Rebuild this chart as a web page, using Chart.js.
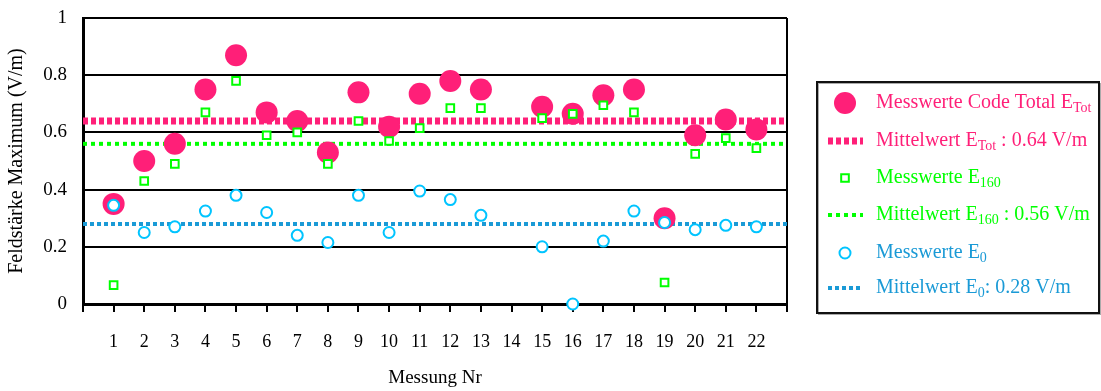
<!DOCTYPE html>
<html>
<head>
<meta charset="utf-8">
<script src="https://cdn.jsdelivr.net/npm/chart.js@4.4.1/dist/chart.umd.min.js"></script>
<style>
  body { margin: 0; background: #fff; }
  canvas { display: block; }
</style>
</head>
<body>
<canvas id="chart" width="1101" height="391"></canvas>
<script>
// Messung Nr 1..22 (Nr 14 has no values)
const messungNr = [1, 2, 3, 4, 5, 6, 7, 8, 9, 10, 11, 12, 13, 14, 15, 16, 17, 18, 19, 20, 21, 22];
const totalValues = [0.35, 0.50, 0.56, 0.75, 0.87, 0.67, 0.64, 0.53, 0.74, 0.62, 0.735, 0.78, 0.75, null, 0.69, 0.665, 0.73, 0.75, 0.30, 0.59, 0.645, 0.61];
const e160Values = [0.066, 0.43, 0.49, 0.67, 0.78, 0.59, 0.60, 0.49, 0.64, 0.57, 0.615, 0.685, 0.685, null, 0.65, 0.665, 0.695, 0.67, 0.075, 0.525, 0.58, 0.545];
const e0Values = [0.345, 0.25, 0.27, 0.325, 0.38, 0.32, 0.24, 0.215, 0.38, 0.25, 0.395, 0.365, 0.31, null, 0.20, 0.0, 0.22, 0.325, 0.285, 0.26, 0.275, 0.27];
const meanTotal = 0.64;
const meanE160 = 0.56;
const meanE0 = 0.28;
const xRange = [0, 23];

const PINK = "#ff1f78";
const GREEN = "#00ff00";
const CYAN = "#00c4ff";
const BLUE = "#1a9ad6";
const FONT = "'Liberation Serif', 'Times New Roman', serif";

const toPoints = (vals) =>
  vals.map((v, i) => ({ x: messungNr[i], y: v })).filter((p) => p.y !== null);
const meanLine = (m) => xRange.map((x) => ({ x: x, y: m }));

const noPadding = (s) => {
  s.paddingTop = 0;
  s.paddingBottom = 0;
  s.paddingLeft = 0;
  s.paddingRight = 0;
};

// legend drawn by hand so the subscripts can be written like in the original
const subLegend = {
  id: "subLegend",
  afterDraw(chart) {
    const ctx = chart.ctx;
    const box = { x: 817, y: 82, w: 282, h: 231 };
    ctx.save();
    ctx.strokeStyle = "#aaa";
    ctx.lineWidth = 1;
    ctx.strokeRect(box.x + 1.5, box.y + 1.5, box.w, box.h);
    ctx.strokeStyle = "#111";
    ctx.lineWidth = 2;
    ctx.strokeRect(box.x, box.y, box.w, box.h);

    const order = [0, 3, 1, 4, 2, 5];
    const rowY = [103, 141, 178, 215, 253, 288];
    order.forEach((di, row) => {
      const ds = chart.data.datasets[di];
      const y = rowY[row];
      const cx = 845;
      ctx.save();
      if (ds.type === "line") {
        ctx.strokeStyle = ds.borderColor;
        ctx.lineWidth = ds.borderWidth;
        ctx.setLineDash(ds.borderDash);
        ctx.beginPath();
        ctx.moveTo(828, y);
        ctx.lineTo(863, y);
        ctx.stroke();
      } else {
        ctx.fillStyle = ds.backgroundColor;
        ctx.strokeStyle = ds.borderColor;
        ctx.lineWidth = ds.borderWidth;
        Chart.helpers.drawPoint(ctx, { pointStyle: ds.pointStyle, radius: ds.pointRadius, rotation: 0, borderWidth: ds.borderWidth }, cx, y);
      }
      ctx.restore();

      // text with E_{sub}
      ctx.fillStyle = ds.textColor;
      ctx.textBaseline = "middle";
      let tx = 876;
      const parts = ds.label.split(/(_\{[^}]*\})/);
      parts.forEach((p) => {
        if (!p) return;
        if (p.startsWith("_{")) {
          const s = p.slice(2, -1);
          ctx.font = "14px " + FONT;
          ctx.fillText(s, tx, y + 5);
          tx += ctx.measureText(s).width;
        } else {
          ctx.font = "20px " + FONT;
          ctx.fillText(p, tx, y);
          tx += ctx.measureText(p).width;
        }
      });
    });
    ctx.restore();
  },
};

new Chart(document.getElementById("chart"), {
  type: "scatter",
  data: {
    datasets: [
      {
        label: "Messwerte Code Total E_{Tot}",
        data: toPoints(totalValues),
        pointStyle: "circle",
        pointRadius: 11,
        pointHoverRadius: 11,
        backgroundColor: PINK,
        borderColor: PINK,
        borderWidth: 0,
        textColor: PINK,
        order: 3,
        clip: false,
      },
      {
        label: "Messwerte E_{160}",
        data: toPoints(e160Values),
        pointStyle: "rect",
        pointRadius: 5.4,
        pointHoverRadius: 5.4,
        backgroundColor: "#fff",
        borderColor: GREEN,
        borderWidth: 2,
        textColor: GREEN,
        order: 2,
        clip: false,
      },
      {
        label: "Messwerte E_{0}",
        data: toPoints(e0Values),
        pointStyle: "circle",
        pointRadius: 5.5,
        pointHoverRadius: 5.5,
        backgroundColor: "#fff",
        borderColor: CYAN,
        borderWidth: 2,
        textColor: BLUE,
        order: 1,
        clip: false,
      },
      {
        type: "line",
        label: "Mittelwert E_{Tot} : " + meanTotal.toFixed(2) + " V/m",
        data: meanLine(meanTotal),
        borderColor: PINK,
        borderWidth: 7,
        borderDash: [5, 3],
        pointRadius: 0,
        textColor: PINK,
        order: 6,
      },
      {
        type: "line",
        label: "Mittelwert E_{160} : " + meanE160.toFixed(2) + " V/m",
        data: meanLine(meanE160),
        borderColor: GREEN,
        borderWidth: 4,
        borderDash: [4, 4],
        pointRadius: 0,
        textColor: GREEN,
        order: 5,
      },
      {
        type: "line",
        label: "Mittelwert E_{0}: " + meanE0.toFixed(2) + " V/m",
        data: meanLine(meanE0),
        borderColor: BLUE,
        borderWidth: 4,
        borderDash: [4, 3],
        pointRadius: 0,
        textColor: BLUE,
        order: 4,
      },
    ],
  },
  options: {
    responsive: false,
    animation: false,
    events: [],
    layout: { padding: { top: 18, right: 314, left: 0, bottom: 0 } },
    plugins: {
      legend: { display: false },
      tooltip: { enabled: false },
    },
    scales: {
      x: {
        type: "linear",
        min: xRange[0],
        max: xRange[1],
        afterFit: (s) => { s.height = 87; noPadding(s); },
        afterBuildTicks: (s) => {
          s.ticks = [];
          for (let v = xRange[0]; v <= xRange[1]; v++) s.ticks.push({ value: v });
        },
        ticks: {
          autoSkip: false,
          maxRotation: 0,
          padding: 19,
          color: "#000",
          font: { family: FONT, size: 18 },
          callback: (v) => (messungNr.includes(v) ? String(v) : ""),
        },
        grid: {
          drawOnChartArea: true,
          color: (c) => (c.tick && c.tick.value === xRange[1] ? "#000" : "rgba(0,0,0,0)"),
          lineWidth: 2,
          tickColor: "#000",
          tickLength: 8,
        },
        border: { color: "#000", width: 3 },
        title: {
          display: true,
          text: "Messung Nr",
          color: "#000",
          font: { family: FONT, size: 19 },
          padding: { top: 0, bottom: 2 },
        },
      },
      y: {
        min: 0,
        max: 1,
        afterFit: (s) => { s.width = 83; noPadding(s); },
        ticks: {
          stepSize: 0.2,
          padding: 16,
          color: "#000",
          font: { family: FONT, size: 19 },
          callback: (v) => String(Math.round(v * 10) / 10),
        },
        grid: {
          color: "#000",
          lineWidth: 2,
          drawTicks: false,
        },
        border: { color: "#000", width: 3 },
        title: {
          display: true,
          text: "Feldstärke Maximum (V/m)",
          color: "#000",
          font: { family: FONT, size: 20 },
          padding: { top: 5, bottom: 0 },
        },
      },
    },
  },
  plugins: [subLegend],
});
</script>
</body>
</html>
